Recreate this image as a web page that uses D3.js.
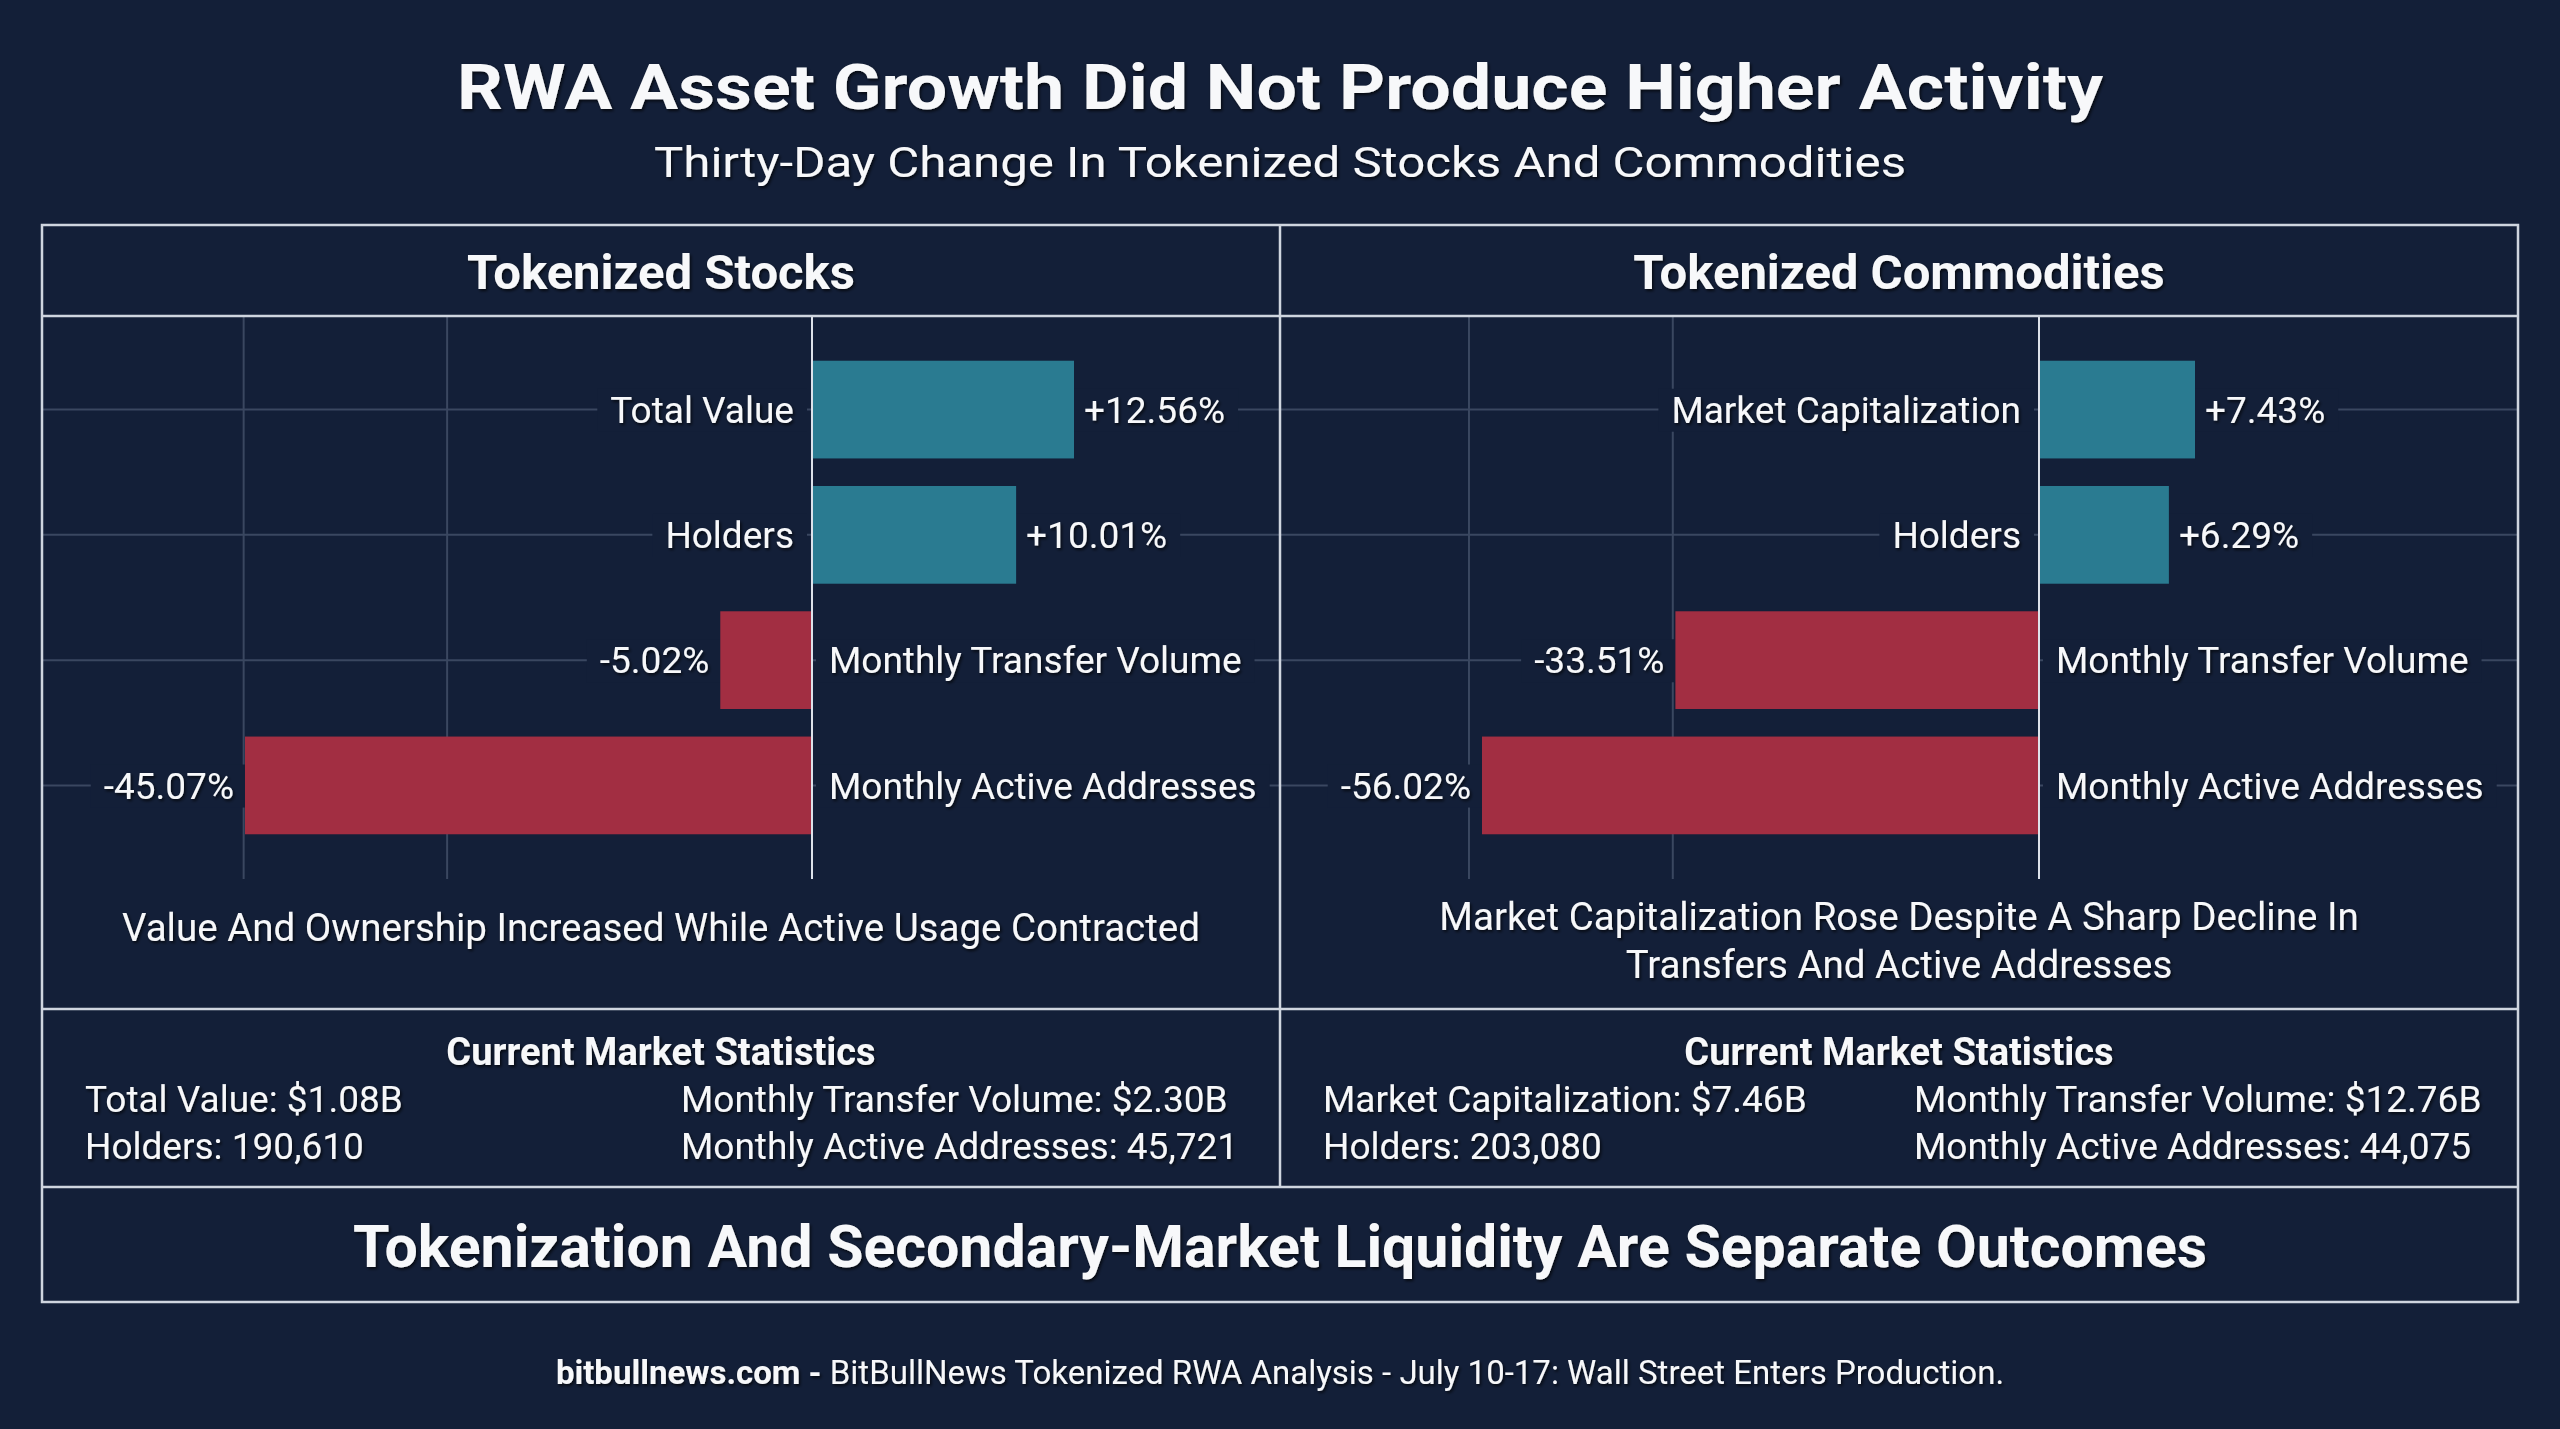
<!DOCTYPE html>
<html>
<head>
<meta charset="utf-8">
<script src="https://cdn.jsdelivr.net/npm/d3@7"></script>
<style>
  body { margin: 0; background: #131f38; }
  svg { display: block; }
  text { font-family: Roboto, "Noto Sans", sans-serif; fill: #f7f8fa; }
</style>
</head>
<body>
<svg id="chart"></svg>
<script>
// data
const stockMetrics = ["Total Value", "Holders", "Monthly Transfer Volume", "Monthly Active Addresses"]
const stockChanges = [12.56, 10.01, -5.02, -45.07]
const commodityMetrics = ["Market Capitalization", "Holders", "Monthly Transfer Volume", "Monthly Active Addresses"]
const commodityChanges = [7.43, 6.29, -33.51, -56.02]
// vertical grid positions (in % change, negative side only)
const stockGrid = [-45.2, -26.5]
const commodityGrid = [-57.6, -33.8]
const stockNote = ["Value And Ownership Increased While Active Usage Contracted"]
const commodityNote = ["Market Capitalization Rose Despite A Sharp Decline In", "Transfers And Active Addresses"]
const stockStatsLeft = ["Total Value: $1.08B", "Holders: 190,610"]
const stockStatsRight = ["Monthly Transfer Volume: $2.30B", "Monthly Active Addresses: 45,721"]
const commodityStatsLeft = ["Market Capitalization: $7.46B", "Holders: 203,080"]
const commodityStatsRight = ["Monthly Transfer Volume: $12.76B", "Monthly Active Addresses: 44,075"]

const W = 2560, H = 1429
const bg = "#131f38"
const lineColor = "#cfd5df"
const gridColor = "#3a4760"
const posColor = "#2a7b91"
const negColor = "#a22e42"

const svg = d3.select("#chart").attr("width", W).attr("height", H)
svg.append("rect").attr("width", W).attr("height", H).attr("fill", bg)

const defs = svg.append("defs")
defs.append("filter").attr("id", "shadow").attr("x", "-5%").attr("y", "-20%").attr("width", "110%").attr("height", "140%")
  .append("feDropShadow").attr("dx", 1.5).attr("dy", 2).attr("stdDeviation", 1.8)
  .attr("flood-color", "#000").attr("flood-opacity", 0.7)

// titles (the reference lettering runs wide, so stretch to its measured width)
svg.append("text").attr("x", W / 2).attr("y", 109).attr("text-anchor", "middle")
  .attr("font-size", 63).attr("font-weight", 700).attr("filter", "url(#shadow)")
  .attr("textLength", 1646).attr("lengthAdjust", "spacingAndGlyphs")
  .text("RWA Asset Growth Did Not Produce Higher Activity")
svg.append("text").attr("x", W / 2).attr("y", 177).attr("text-anchor", "middle")
  .attr("font-size", 43).attr("filter", "url(#shadow)")
  .attr("textLength", 1252).attr("lengthAdjust", "spacingAndGlyphs")
  .text("Thirty-Day Change In Tokenized Stocks And Commodities")

const box = { left: 42, right: 2518, top: 225, head: 316, chartBottom: 1009, statsBottom: 1187, bottom: 1302 }
const mid = W / 2

const panels = [
  { title: "Tokenized Stocks", x0: box.left, x1: mid, zero: 812, negEnd: 245, posEnd: 1074,
    metrics: stockMetrics, values: stockChanges, grid: stockGrid, note: stockNote,
    statsL: stockStatsLeft, statsR: stockStatsRight, colL: 85, colR: 681 },
  { title: "Tokenized Commodities", x0: mid, x1: box.right, zero: 2039, negEnd: 1482, posEnd: 2195,
    metrics: commodityMetrics, values: commodityChanges, grid: commodityGrid, note: commodityNote,
    statsL: commodityStatsLeft, statsR: commodityStatsRight, colL: 1323, colR: 1914 }
]

const fmt = (v) => (v > 0 ? "+" : "") + v.toFixed(2) + "%"

for (let p of panels) {
  const g = svg.append("g")
  const cx = (p.x0 + p.x1) / 2
  const rows = p.metrics.map((m, i) => ({ metric: m, value: p.values[i] }))

  g.append("text").attr("x", cx).attr("y", 289).attr("text-anchor", "middle")
    .attr("font-size", 49).attr("font-weight", 700).attr("filter", "url(#shadow)").text(p.title)

  const y = d3.scaleBand().domain(p.metrics).range([box.head, 879]).paddingInner(0.22).paddingOuter(0.357)
  const xNeg = d3.scalePow().exponent(0.83).domain([d3.min(p.values), 0]).range([p.negEnd, p.zero])
  const xPos = d3.scalePow().exponent(1.1).domain([0, d3.max(p.values)]).range([p.zero, p.posEnd])
  const x = (v) => (v < 0 ? xNeg(v) : xPos(v))

  // grid
  g.selectAll(".vgrid").data(p.grid).enter().append("line")
    .attr("x1", (d) => x(d)).attr("x2", (d) => x(d)).attr("y1", box.head).attr("y2", 879)
    .attr("stroke", gridColor).attr("stroke-width", 2)
  g.selectAll(".hgrid").data(p.metrics).enter().append("line")
    .attr("x1", p.x0).attr("x2", p.x1)
    .attr("y1", (d) => y(d) + y.bandwidth() / 2).attr("y2", (d) => y(d) + y.bandwidth() / 2)
    .attr("stroke", gridColor).attr("stroke-width", 2)

  // labels (category and value)
  const labels = []
  for (let r of rows) {
    const yc = y(r.metric) + y.bandwidth() / 2
    if (r.value >= 0) {
      labels.push({ text: r.metric, x: p.zero - 18, anchor: "end", y: yc })
      labels.push({ text: fmt(r.value), x: x(r.value) + 10, anchor: "start", y: yc })
    } else {
      labels.push({ text: r.metric, x: p.zero + 17, anchor: "start", y: yc })
      labels.push({ text: fmt(r.value), x: x(r.value) - 11, anchor: "end", y: yc })
    }
  }
  const bgLayer = g.append("g")

  g.selectAll(".bar").data(rows).enter().append("rect")
    .attr("x", (d) => Math.min(x(d.value), p.zero)).attr("width", (d) => Math.abs(x(d.value) - p.zero))
    .attr("y", (d) => y(d.metric)).attr("height", y.bandwidth())
    .attr("fill", (d) => (d.value >= 0 ? posColor : negColor))

  g.append("line").attr("x1", p.zero).attr("x2", p.zero).attr("y1", box.head).attr("y2", 879)
    .attr("stroke", "#dde2ea").attr("stroke-width", 2)

  const lab = g.selectAll(".lab").data(labels).enter().append("text")
    .attr("x", (d) => d.x).attr("y", (d) => d.y).attr("dy", "0.355em")
    .attr("text-anchor", (d) => d.anchor).attr("font-size", 37).attr("filter", "url(#shadow)")
    .text((d) => d.text)
  lab.each(function () {
    const b = this.getBBox()
    bgLayer.append("rect").attr("x", b.x - 13).attr("y", b.y).attr("width", b.width + 26).attr("height", b.height).attr("fill", bg)
  })

  // note under chart
  const noteY0 = p.note.length > 1 ? 930 : 941
  g.selectAll(".note").data(p.note).enter().append("text")
    .attr("x", cx).attr("y", (d, i) => noteY0 + i * 48).attr("text-anchor", "middle")
    .attr("font-size", 38.5).attr("filter", "url(#shadow)").text((d) => d)

  // stats
  g.append("text").attr("x", cx).attr("y", 1065).attr("text-anchor", "middle")
    .attr("font-size", 38).attr("font-weight", 700).attr("filter", "url(#shadow)").text("Current Market Statistics")
  g.selectAll(".statL").data(p.statsL).enter().append("text")
    .attr("x", p.colL).attr("y", (d, i) => 1112 + i * 47).attr("font-size", 37).attr("filter", "url(#shadow)").text((d) => d)
  g.selectAll(".statR").data(p.statsR).enter().append("text")
    .attr("x", p.colR).attr("y", (d, i) => 1112 + i * 47).attr("font-size", 37).attr("filter", "url(#shadow)").text((d) => d)
}

// frame, drawn last so label backgrounds never cover it
const frame = svg.append("g").attr("stroke", lineColor).attr("stroke-width", 2.5).attr("fill", "none")
frame.append("rect").attr("x", box.left).attr("y", box.top).attr("width", box.right - box.left).attr("height", box.bottom - box.top)
for (let yy of [box.head, box.chartBottom, box.statsBottom])
  frame.append("line").attr("x1", box.left).attr("x2", box.right).attr("y1", yy).attr("y2", yy)
frame.append("line").attr("x1", mid).attr("x2", mid).attr("y1", box.top).attr("y2", box.statsBottom)

// conclusion and source
svg.append("text").attr("x", W / 2).attr("y", 1267).attr("text-anchor", "middle")
  .attr("font-size", 59).attr("font-weight", 700).attr("filter", "url(#shadow)")
  .text("Tokenization And Secondary-Market Liquidity Are Separate Outcomes")
const src = svg.append("text").attr("x", W / 2).attr("y", 1384).attr("text-anchor", "middle")
  .attr("font-size", 33).attr("filter", "url(#shadow)")
src.append("tspan").attr("font-weight", 700).text("bitbullnews.com -")
src.append("tspan").text(" BitBullNews Tokenized RWA Analysis - July 10-17: Wall Street Enters Production.")
</script>
</body>
</html>
